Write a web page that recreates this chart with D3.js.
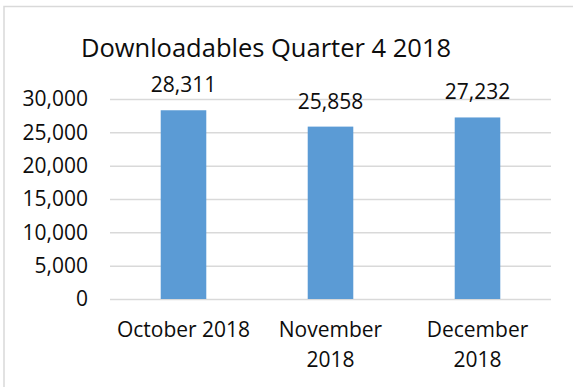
<!DOCTYPE html>
<html>
<head>
<meta charset="utf-8">
<script src="https://cdn.jsdelivr.net/npm/d3@7"></script>
<style>
  html, body { margin: 0; padding: 0; background: #fff; }
  text { font-family: 'Open Sans', sans-serif; fill: #0d0d0d; }
</style>
</head>
<body>
<div id="chart"></div>
<script>
// Chart data
var categories = ['October 2018', 'November 2018', 'December 2018']
var downloads = [28311, 25858, 27232]
var tickLabels = [['October 2018'], ['November', '2018'], ['December', '2018']]
var yTicks = [0, 5000, 10000, 15000, 20000, 25000, 30000]
var title = 'Downloadables Quarter 4 2018'

var width = 573
var height = 387
var margin = { top: 99, left: 110, right: 22, bottom: 88 }

var svg = d3.select('#chart')
  .append('svg')
  .attr('width', width)
  .attr('height', height)

// chart frame (runs off the right and bottom edge)
svg.append('rect')
  .attr('x', 4)
  .attr('y', 6.5)
  .attr('width', 600)
  .attr('height', 420)
  .style('fill', '#fff')
  .style('stroke', '#d9d9d9')
  .style('stroke-width', 1.5)

var x = d3.scaleBand()
  .domain(categories)
  .range([margin.left, width - margin.right])

var y = d3.scaleLinear()
  .domain([0, 30000])
  .range([height - margin.bottom, margin.top])

// gridlines + tick labels
var yAxis = d3.axisLeft(y)
  .tickValues(yTicks)
  .tickFormat(d3.format(','))
  .tickSize(-(width - margin.right - margin.left))
  .tickPadding(22)

var gy = svg.append('g')
  .attr('transform', 'translate(' + margin.left + ',0)')
  .call(yAxis)

gy.select('.domain').remove()
gy.selectAll('.tick line')
  .style('stroke', '#d9d9d9')
  .style('stroke-width', 1.5)
gy.selectAll('.tick text')
  .attr('font-family', "'Open Sans', sans-serif")
  .attr('font-size', 21)
  .style('fill', '#0d0d0d')

var barW = x.bandwidth() * 0.31

svg.selectAll('.bar')
  .data(downloads)
  .enter()
  .append('rect')
  .attr('class', 'bar')
  .attr('x', function (d, i) { return x(categories[i]) + (x.bandwidth() - barW) / 2 })
  .attr('y', function (d) { return y(d) })
  .attr('width', barW)
  .attr('height', function (d) { return y(0) - y(d) })
  .style('fill', '#5b9bd5')

// value labels
svg.selectAll('.val')
  .data(downloads)
  .enter()
  .append('text')
  .attr('class', 'val')
  .attr('x', function (d, i) { return x(categories[i]) + x.bandwidth() / 2 })
  .attr('y', function (d) { return y(d) - 18 })
  .attr('text-anchor', 'middle')
  .attr('font-size', 21)
  .text(function (d) { return d3.format(',')(d) })

// category labels, wrapped like the original
var cat = svg.selectAll('.cat')
  .data(categories)
  .enter()
  .append('text')
  .attr('class', 'cat')
  .attr('text-anchor', 'middle')
  .attr('font-size', 21)

cat.each(function (d, i) {
  var t = d3.select(this)
  tickLabels[i].forEach(function (line, j) {
    t.append('tspan')
      .attr('x', x(d) + x.bandwidth() / 2)
      .attr('y', 337 + j * 30)
      .text(line)
  })
})

svg.append('text')
  .attr('x', 266)
  .attr('y', 57)
  .attr('text-anchor', 'middle')
  .attr('font-size', 25.5)
  .text(title)
</script>
</body>
</html>
